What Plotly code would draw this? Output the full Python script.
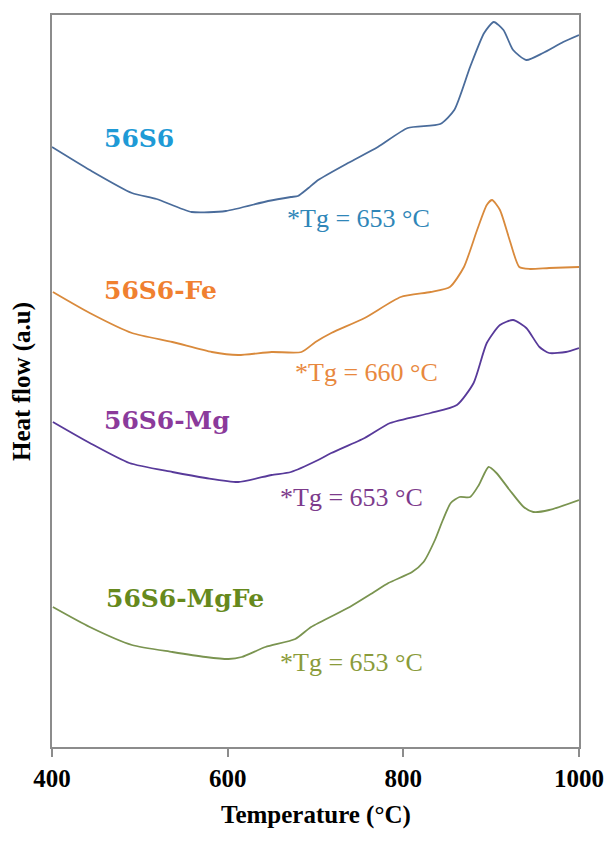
import plotly.graph_objects as go

# DSC traces (heat flow, arbitrary units) vs temperature
t_56s6 = [400, 443, 491, 519, 559, 598, 646, 672, 680, 692, 703, 737, 771, 805, 842,
          858, 876, 892, 903, 914, 925, 940, 959, 982, 1000]
hf_56s6 = [60.0, 57.7, 55.4, 54.8, 53.5, 53.6, 54.6, 55.0, 55.1, 55.9, 56.7, 58.4, 60.0,
           61.9, 62.3, 63.7, 68.0, 71.4, 72.5, 71.7, 69.7, 68.7, 69.4, 70.5, 71.2]

t_fe = [401, 443, 491, 537, 582, 612, 650, 684, 700, 718, 756, 797, 831, 853, 869,
        884, 895, 901, 910, 921, 932, 944, 966, 1000]
hf_fe = [45.5, 43.4, 41.4, 40.5, 39.5, 39.2, 39.5, 39.5, 40.5, 41.4, 42.9, 45.0, 45.5,
         46.0, 48.0, 51.7, 54.2, 54.7, 53.7, 50.7, 48.0, 47.8, 47.9, 48.0]

t_mg = [401, 443, 488, 537, 575, 612, 650, 672, 703, 718, 756, 785, 831, 861, 880,
        895, 910, 925, 940, 955, 966, 985, 1000]
hf_mg = [32.5, 30.4, 28.4, 27.5, 26.9, 26.5, 27.2, 27.5, 28.7, 29.4, 30.9, 32.4, 33.4,
         34.2, 36.4, 40.4, 42.2, 42.7, 41.9, 40.0, 39.4, 39.5, 39.9]

t_mgfe = [401, 443, 491, 537, 575, 601, 616, 643, 677, 695, 739, 765, 783, 810, 823,
          836, 845, 854, 864, 876, 886, 897, 906, 921, 937, 948, 966, 1000]
hf_mgfe = [14.0, 12.0, 10.2, 9.5, 9.0, 8.8, 9.0, 10.0, 10.8, 12.0, 14.0, 15.4, 16.4,
           17.5, 18.5, 20.7, 22.7, 24.4, 25.0, 25.0, 26.2, 28.0, 27.4, 25.7, 24.0,
           23.5, 23.7, 24.7]

samples = ["56S6", "56S6-Fe", "56S6-Mg", "56S6-MgFe"]
tg_values = [653, 660, 653, 653]
x_ticks = [400, 600, 800, 1000]

line_colors = ["#4a6c9b", "#d98a3c", "#583a9a", "#7a9450"]
name_colors = ["#1e9ad6", "#f08030", "#8b3a9b", "#66891c"]
tg_colors = ["#2f86b8", "#e8883e", "#7d3b8c", "#8a9b3a"]

series = [(t_56s6, hf_56s6), (t_fe, hf_fe), (t_mg, hf_mg), (t_mgfe, hf_mgfe)]

fig = go.Figure()
for (t, hf), name, col in zip(series, samples, line_colors):
    fig.add_trace(go.Scatter(x=t, y=hf, mode="lines", name=name,
                             line=dict(color=col, width=1.8, shape="spline", smoothing=0.6),
                             showlegend=False))

# sample names and glass-transition labels (left-anchored)
name_pos = [(457, 60.9), (457, 45.7), (457, 32.7), (459, 14.9)]
tg_pos = [(665, 52.9), (674, 37.5), (657, 25.0), (657, 8.5)]
for i in range(4):
    fig.add_annotation(x=name_pos[i][0], y=name_pos[i][1], text=f"<b>{samples[i]}</b>",
                       showarrow=False, xanchor="left", yanchor="middle",
                       font=dict(family="DejaVu Serif", size=25, color=name_colors[i]))
    fig.add_annotation(x=tg_pos[i][0], y=tg_pos[i][1], text=f"*Tg = {tg_values[i]} °C",
                       showarrow=False, xanchor="left", yanchor="middle",
                       font=dict(family="Liberation Serif", size=26, color=tg_colors[i]))

axis_font = dict(family="Liberation Serif", size=25, color="black")

fig.add_annotation(xref="paper", yref="paper", x=0.5, y=-0.093,
                   text="<b>Temperature (°C)</b>", showarrow=False,
                   xanchor="center", yanchor="middle", font=axis_font)
fig.add_annotation(xref="paper", yref="paper", x=-0.057, y=0.5,
                   text="<b>Heat flow (a.u)</b>", showarrow=False, textangle=-90,
                   xanchor="center", yanchor="middle", font=axis_font)

fig.update_xaxes(range=[400, 1000], tickvals=x_ticks,
                 ticktext=[f"<b>{v}</b>" for v in x_ticks],
                 ticks="outside", ticklen=8, tickwidth=2, tickcolor="#8c8c8c",
                 showline=True, linecolor="#8c8c8c", linewidth=2, mirror=True,
                 showgrid=False, zeroline=False, tickfont=axis_font)
fig.update_yaxes(range=[0, 73.2], showticklabels=False, ticks="",
                 showline=True, linecolor="#8c8c8c", linewidth=2, mirror=True,
                 showgrid=False, zeroline=False)

fig.update_layout(width=616, height=843,
                  margin=dict(l=52, r=26, t=15, b=96),
                  paper_bgcolor="white", plot_bgcolor="white")

fig.write_html("out.html")
